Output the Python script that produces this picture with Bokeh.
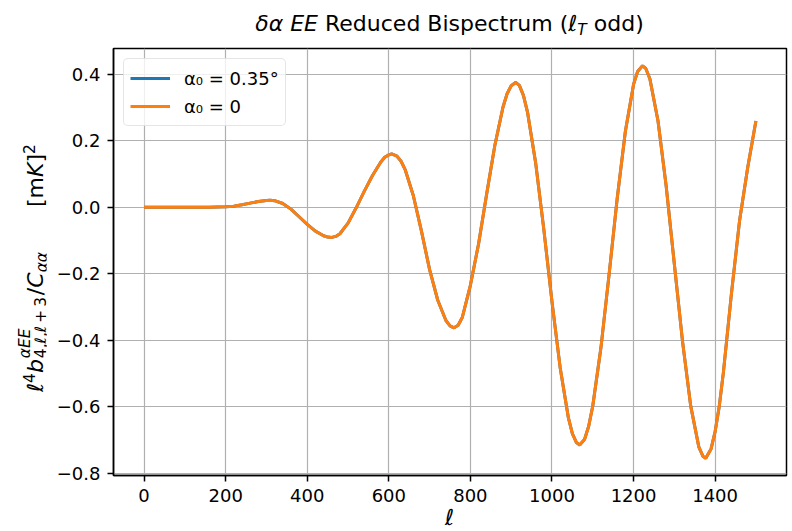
from bokeh.plotting import figure
from bokeh.models import (Range1d, FixedTicker, CustomJSTickFormatter, Div,
                          Legend, LegendItem, ColumnDataSource)
from bokeh.layouts import column, row
from bokeh.embed import file_html
from bokeh.resources import INLINE

# ---------------- data ----------------
ell = [0, 20, 40, 60, 80, 100, 120, 140, 160, 180, 200, 220, 240, 260, 280, 300,
       309, 320, 340, 360, 380, 400, 420, 440, 450, 460, 470, 480, 500, 520, 540,
       560, 580, 590, 600, 607, 620, 630, 640, 660, 680, 700, 720, 740, 750, 760,
       770, 780, 800, 820, 840, 860, 880, 890, 900, 911, 920, 930, 940, 960, 980,
       1000, 1020, 1040, 1050, 1060, 1068, 1080, 1090, 1100, 1120, 1140, 1160,
       1180, 1200, 1210, 1222, 1230, 1240, 1260, 1280, 1300, 1320, 1340, 1360,
       1370, 1377, 1390, 1400, 1410, 1420, 1440, 1460, 1480, 1500]

b_alpha0 = [0.0, 0.0, 0.0, 0.0, 0.0, 0.0, 0.0, 0.0, 0.0, 0.0005, 0.001, 0.003,
            0.007, 0.012, 0.017, 0.020, 0.021, 0.0195, 0.011, -0.006, -0.029,
            -0.052, -0.072, -0.086, -0.090, -0.091, -0.088, -0.080, -0.048,
            -0.002, 0.048, 0.095, 0.135, 0.150, 0.157, 0.160, 0.153, 0.138,
            0.113, 0.035, -0.072, -0.188, -0.280, -0.341, -0.357, -0.363, -0.355,
            -0.332, -0.235, -0.111, 0.040, 0.186, 0.301, 0.341, 0.365, 0.375,
            0.366, 0.336, 0.286, 0.133, -0.067, -0.284, -0.482, -0.632, -0.681,
            -0.708, -0.715, -0.698, -0.659, -0.598, -0.423, -0.203, 0.027, 0.228,
            0.369, 0.408, 0.425, 0.417, 0.386, 0.259, 0.063, -0.171, -0.403,
            -0.597, -0.721, -0.749, -0.755, -0.727, -0.675, -0.600, -0.50, -0.26,
            -0.04, 0.12, 0.259]

# the 0.35 deg curve is indistinguishable from (hidden under) the alpha0 = 0 curve
b_alpha035 = list(b_alpha0)

series_labels = ["α₀ = 0.35°", "α₀ = 0"]

x_ticks = [0, 200, 400, 600, 800, 1000, 1200, 1400]
x_tick_labels = ["0", "200", "400", "600", "800", "1000", "1200", "1400"]
y_ticks = [-0.8, -0.6, -0.4, -0.2, 0.0, 0.2, 0.4]
y_tick_labels = ["−0.8", "−0.6", "−0.4", "−0.2", "0.0", "0.2", "0.4"]

# ---------------- layout / style ----------------
FONT = "DejaVu Sans"
W, H = 792, 531
TITLE_H = 40          # height of the title strip
YLAB_W = 46           # width of the y-label strip
BOT = 36              # figure border below the frame (tick labels)
FL, FR, FT, FB = 113, 786, 48, 475   # frame edges in page px

PW = W - YLAB_W
PH = FB - TITLE_H + BOT
XLAB_H = H - TITLE_H - PH

p = figure(width=PW, height=PH, output_backend="svg", toolbar_location=None,
           x_range=Range1d(-75, 1575), y_range=Range1d(-0.807, 0.477),
           min_border_left=FL - YLAB_W, min_border_right=W - FR,
           min_border_top=FT - TITLE_H, min_border_bottom=BOT)
p.margin = 0
p.background_fill_color = "white"
p.border_fill_color = "white"
p.outline_line_color = "black"
p.outline_line_width = 1.5

src = ColumnDataSource(dict(ell=ell, a035=b_alpha035, a0=b_alpha0))
r1 = p.line("ell", "a035", source=src, line_color="#1f77b4", line_width=3)
r2 = p.line("ell", "a0", source=src, line_color="#ff7f0e", line_width=3)

fmt_code = ("const i = tvals.findIndex(t => Math.abs(t - tick) < 1e-9);"
            "return i >= 0 ? tlabs[i] : '';")
p.xaxis.ticker = FixedTicker(ticks=x_ticks)
p.xaxis.formatter = CustomJSTickFormatter(args=dict(tvals=x_ticks, tlabs=x_tick_labels), code=fmt_code)
p.yaxis.ticker = FixedTicker(ticks=y_ticks)
p.yaxis.formatter = CustomJSTickFormatter(args=dict(tvals=y_ticks, tlabs=y_tick_labels), code=fmt_code)

for ax in (p.xaxis, p.yaxis):
    ax.axis_line_color = "black"
    ax.axis_line_width = 1.5
    ax.major_tick_line_color = "black"
    ax.major_tick_line_width = 1.5
    ax.major_tick_out = 6
    ax.major_tick_in = 0
    ax.minor_tick_line_color = None
    ax.major_label_text_font = FONT
    ax.major_label_text_font_size = "18px"
    ax.major_label_text_color = "black"
    ax.major_label_standoff = 7

p.xgrid.grid_line_color = "#b0b0b0"
p.ygrid.grid_line_color = "#b0b0b0"
p.xgrid.grid_line_width = 1.2
p.ygrid.grid_line_width = 1.2

legend = Legend(items=[LegendItem(label=series_labels[0], renderers=[r1]),
                       LegendItem(label=series_labels[1], renderers=[r2])],
                location="top_left", margin=10, padding=6, spacing=2,
                glyph_width=40, glyph_height=26, label_height=26,
                label_standoff=14, label_text_font=FONT,
                label_text_font_size="18px", label_text_color="black",
                border_line_color="#cccccc", border_line_width=1.2,
                background_fill_color="white", background_fill_alpha=0.8)
if "border_radius" in Legend.properties():
    legend.border_radius = 5
p.add_layout(legend)

BASE = ("font-family:'DejaVu Sans';font-size:22px;line-height:22px;"
        "white-space:nowrap;color:#000;box-sizing:border-box;")

# ---------------- title (rich text) ----------------
title_html = (
    f'<div style="{BASE}padding-top:13px;padding-left:{FL}px;width:{FR}px;'
    'text-align:center;">'
    '<i>δα EE</i> Reduced Bispectrum (<i>ℓ</i>'
    '<span style="font-size:15.4px;position:relative;top:4px"><i>T</i></span>'
    ' odd)</div>'
)
title_div = Div(text=title_html, width=W, height=TITLE_H, margin=0)

# ---------------- y label (rotated rich text) ----------------
S = "font-size:15.4px;"
ylab_html = (
    f'<div style="{BASE}width:{PH}px;height:{YLAB_W}px;transform-origin:0 0;'
    f'transform:translate(0px,{PH}px) rotate(-90deg);">'
    f'<div style="padding-left:{PH - (392 - TITLE_H)}px;padding-top:25px;">'
    '<i>ℓ</i>'
    f'<span style="{S}position:relative;top:-8px">4</span>'
    '<i>b</i>'
    '<span style="display:inline-block;position:relative;width:64px;height:0px;">'
    f'<i style="position:absolute;left:1px;top:-29px;{S}">αEE</i>'
    f'<span style="position:absolute;left:1px;top:-13px;{S}">4,<i>ℓ</i>,<i>ℓ</i>\u2009+\u20093</span>'
    '</span>'
    '/<i>C</i>'
    f'<span style="{S}position:relative;top:4px"><i>αα</i></span>'
    '<span style="display:inline-block;width:45px"></span>'
    '[m<i>K</i>]'
    f'<span style="{S}position:relative;top:-8px">2</span>'
    '</div></div>'
)
ylab_div = Div(text=ylab_html, width=YLAB_W, height=PH, margin=0)

# ---------------- x label ----------------
xlab_html = (
    f'<div style="{BASE}line-height:{XLAB_H}px;padding-left:{FL}px;width:{FR}px;'
    'text-align:center;position:relative;top:-3px;"><i>ℓ</i></div>'
)
xlab_div = Div(text=xlab_html, width=W, height=XLAB_H, margin=0)

layout = column(title_div, row(ylab_div, p, spacing=0), xlab_div, spacing=0)
open("out.html", "w").write(file_html(layout, INLINE))
